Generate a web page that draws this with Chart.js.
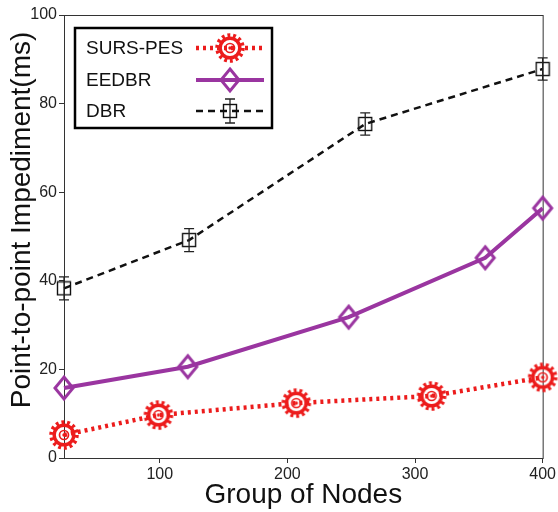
<!DOCTYPE html>
<html lang="en">
<head>
    <meta charset="UTF-8">
    <title>Point-to-point Impediment</title>
    <script src="https://cdn.jsdelivr.net/npm/chart.js"></script>
    <style>
        body {
            margin: 0;
            background: #ffffff;
        }

        .chart-box {
            width: 558px;
            height: 512px;
        }
    </style>
</head>
<body>
    <div class="chart-box">
        <canvas id="impedimentChart" width="558" height="512"></canvas>
    </div>

    <script>
        // data
        const sursX = [25, 99, 207, 313, 400];
        const sursY = [5.2, 9.7, 12.4, 14.0, 18.2];
        const eedbrX = [25, 122, 248, 355, 400];
        const eedbrY = [15.8, 20.6, 31.8, 45.2, 56.4];
        const dbrX = [25, 123, 261, 400];
        const dbrY = [38.3, 49.2, 75.4, 87.8];
        const dbrErr = [2.6, 2.6, 2.5, 2.5];
        const xTicks = [100, 200, 300, 400];
        const yTicks = [0, 20, 40, 60, 80, 100];
        const seriesNames = ['SURS-PES', 'EEDBR', 'DBR'];
        const yTitle = 'Point-to-point Impediment(ms)';

        const RED = '#ec1c1c';
        const PURPLE = '#9a35a0';
        const BLACK = '#111111';
        const FONT = '"Liberation Sans", Arial, sans-serif';

        function toPoints(xs, ys) {
            return xs.map((x, i) => ({ x: x, y: ys[i] }));
        }

        // marker canvases
        function gearMarker() {
            const c = document.createElement('canvas');
            c.width = 32; c.height = 32;
            const g = c.getContext('2d');
            g.strokeStyle = RED;
            g.fillStyle = RED;
            // teeth
            g.lineWidth = 4.5;
            g.setLineDash([2.8, 2.8]);
            g.beginPath();
            g.arc(16, 16, 12.5, 0, Math.PI * 2);
            g.stroke();
            g.setLineDash([]);
            // ring
            g.lineWidth = 3.4;
            g.beginPath();
            g.arc(16, 16, 9.8, 0, Math.PI * 2);
            g.stroke();
            // inner ring + dot
            g.lineWidth = 1.7;
            g.beginPath();
            g.arc(16, 16, 4.5, 0, Math.PI * 2);
            g.stroke();
            g.beginPath();
            g.arc(16, 16, 1.7, 0, Math.PI * 2);
            g.fill();
            return c;
        }

        function diamondMarker() {
            const c = document.createElement('canvas');
            c.width = 24; c.height = 28;
            const g = c.getContext('2d');
            g.strokeStyle = PURPLE;
            g.lineWidth = 3;
            g.beginPath();
            g.moveTo(12, 3);
            g.lineTo(21, 14);
            g.lineTo(12, 25);
            g.lineTo(3, 14);
            g.closePath();
            g.stroke();
            return c;
        }

        function squareMarker() {
            const c = document.createElement('canvas');
            c.width = 16; c.height = 16;
            const g = c.getContext('2d');
            g.strokeStyle = BLACK;
            g.lineWidth = 1.4;
            g.strokeRect(1.5, 1.5, 13, 13);
            return c;
        }

        const markers = [gearMarker(), diamondMarker(), squareMarker()];

        // error bars on DBR, caps like matlab
        const errorBars = {
            id: 'errorBars',
            afterDatasetsDraw(chart) {
                const { ctx, scales } = chart;
                ctx.save();
                ctx.strokeStyle = '#222';
                ctx.lineWidth = 1.3;
                dbrX.forEach((x, i) => {
                    const px = scales.x.getPixelForValue(x);
                    const top = scales.y.getPixelForValue(dbrY[i] + dbrErr[i]);
                    const bot = scales.y.getPixelForValue(dbrY[i] - dbrErr[i]);
                    ctx.beginPath();
                    ctx.moveTo(px, top); ctx.lineTo(px, bot);
                    ctx.moveTo(px - 5, top); ctx.lineTo(px + 5, top);
                    ctx.moveTo(px - 5, bot); ctx.lineTo(px + 5, bot);
                    ctx.stroke();
                });
                ctx.restore();
            }
        };

        // box around plot area (top + right edges) and the y title,
        // which sits a bit above the middle in the original
        const frame = {
            id: 'frame',
            beforeDatasetsDraw(chart) {
                const { ctx, chartArea: a } = chart;
                ctx.save();
                ctx.strokeStyle = '#333';
                ctx.lineWidth = 1;
                ctx.strokeRect(a.left + 0.5, a.top + 0.5, a.right - a.left, a.bottom - a.top);
                ctx.translate(22, 220);
                ctx.rotate(-Math.PI / 2);
                ctx.font = '28px ' + FONT;
                ctx.fillStyle = '#111';
                ctx.textAlign = 'center';
                ctx.textBaseline = 'middle';
                ctx.fillText(yTitle, 0, 0);
                ctx.restore();
            }
        };

        // legend box drawn inside the axes
        const boxLegend = {
            id: 'boxLegend',
            afterDraw(chart) {
                const ctx = chart.ctx;
                const sets = chart.data.datasets;
                const rows = [48, 80, 111];
                ctx.save();
                ctx.fillStyle = '#fff';
                ctx.fillRect(75, 28, 197, 100);
                ctx.strokeStyle = '#000';
                ctx.lineWidth = 2.5;
                ctx.strokeRect(75, 28, 197, 100);
                ctx.font = '19px ' + FONT;
                ctx.textBaseline = 'middle';
                sets.forEach((ds, i) => {
                    const y = rows[i];
                    ctx.fillStyle = '#111';
                    ctx.fillText(ds.label, 86, y + 1);
                    ctx.strokeStyle = ds.borderColor;
                    ctx.lineWidth = ds.borderWidth;
                    ctx.setLineDash(ds.borderDash || []);
                    ctx.beginPath();
                    ctx.moveTo(196, y); ctx.lineTo(264, y);
                    ctx.stroke();
                    ctx.setLineDash([]);
                    if (i === 2) {
                        ctx.strokeStyle = '#222';
                        ctx.lineWidth = 1.3;
                        ctx.beginPath();
                        ctx.moveTo(230, y - 12); ctx.lineTo(230, y + 12);
                        ctx.moveTo(225, y - 12); ctx.lineTo(235, y - 12);
                        ctx.moveTo(225, y + 12); ctx.lineTo(235, y + 12);
                        ctx.stroke();
                    }
                    const m = markers[i];
                    ctx.drawImage(m, 230 - m.width / 2, y - m.height / 2);
                });
                ctx.restore();
            }
        };

        const ctx = document.getElementById('impedimentChart').getContext('2d');
        const chart = new Chart(ctx, {
            type: 'line',
            data: {
                datasets: [
                    {
                        label: seriesNames[0],
                        data: toPoints(sursX, sursY),
                        borderColor: RED,
                        borderWidth: 4.5,
                        borderDash: [3, 4],
                        pointStyle: markers[0],
                        tension: 0,
                        clip: false
                    },
                    {
                        label: seriesNames[1],
                        data: toPoints(eedbrX, eedbrY),
                        borderColor: PURPLE,
                        borderWidth: 4,
                        pointStyle: markers[1],
                        tension: 0,
                        clip: false
                    },
                    {
                        label: seriesNames[2],
                        data: toPoints(dbrX, dbrY),
                        borderColor: BLACK,
                        borderWidth: 2.5,
                        borderDash: [7, 5],
                        pointStyle: markers[2],
                        tension: 0,
                        clip: false
                    }
                ]
            },
            options: {
                responsive: false,
                animation: false,
                events: [],
                layout: {
                    padding: { top: 15, right: 15, left: 0, bottom: 0 }
                },
                scales: {
                    x: {
                        type: 'linear',
                        min: 25,
                        max: 400,
                        afterFit: (s) => { s.height = 54; },
                        afterBuildTicks: (s) => { s.ticks = xTicks.map(v => ({ value: v })); },
                        grid: { drawOnChartArea: false, tickLength: 5, color: '#333' },
                        border: { color: '#333', width: 1 },
                        ticks: { color: '#222', font: { size: 16, family: FONT }, padding: 2, maxRotation: 0 },
                        title: {
                            display: true,
                            text: 'Group of Nodes',
                            color: '#111',
                            font: { size: 28, family: FONT },
                            padding: { top: 0, bottom: 0 }
                        }
                    },
                    y: {
                        min: 0,
                        max: 100,
                        afterFit: (s) => { s.width = 64; },
                        afterBuildTicks: (s) => { s.ticks = yTicks.map(v => ({ value: v })); },
                        grid: { drawOnChartArea: false, tickLength: 5, color: '#333' },
                        border: { color: '#333', width: 1 },
                        ticks: { color: '#222', font: { size: 16, family: FONT }, padding: 2 },
                        title: { display: false, text: yTitle }
                    }
                },
                plugins: {
                    legend: { display: false },
                    tooltip: { enabled: false }
                }
            },
            plugins: [frame, errorBars, boxLegend]
        });
    </script>
</body>
</html>
